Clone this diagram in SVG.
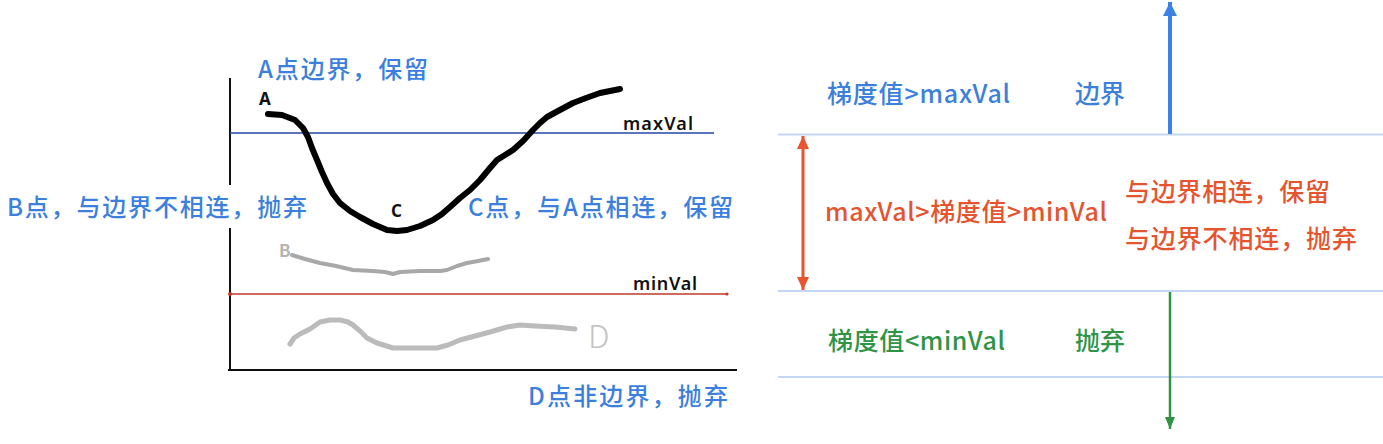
<svg xmlns="http://www.w3.org/2000/svg" width="1383" height="444" viewBox="0 0 1383 444">
<style>
text{font-family:"Noto Sans CJK SC","Noto Sans",sans-serif;}
.ann{font-size:24px;font-weight:500;fill:#3c7fdc;}
.rt{font-size:25px;font-weight:500;}
.blue{fill:#3c7fdc;}
.red{fill:#e4552f;}
.green{fill:#2f9446;}
.lbl{font-family:"Noto Sans",sans-serif;font-size:18px;font-weight:600;fill:#111;}
.pt{font-family:"Noto Sans",sans-serif;font-size:17px;font-weight:bold;}
.sep{stroke:#c3d7f0;stroke-width:2;fill:none;}
.curve{fill:none;stroke-linecap:round;stroke-linejoin:round;}
</style>
<defs>
<marker id="ah-blue" viewBox="0 0 14 14" refX="14" refY="7" markerWidth="14" markerHeight="14" markerUnits="userSpaceOnUse" orient="auto-start-reverse"><path d="M0,0 L14,7 L0,14 z" fill="#3b82e6"/></marker>
<marker id="ah-red" viewBox="0 0 13 12" refX="13" refY="6" markerWidth="13" markerHeight="12" markerUnits="userSpaceOnUse" orient="auto-start-reverse"><path d="M0,0 L13,6 L0,12 z" fill="#e9532e"/></marker>
<marker id="ah-green" viewBox="0 0 12 10" refX="12" refY="5" markerWidth="12" markerHeight="10" markerUnits="userSpaceOnUse" orient="auto-start-reverse"><path d="M0,0 L12,5 L0,10 z" fill="#2e9444"/></marker>
</defs>
<rect width="1383" height="444" fill="#ffffff"/>

<!-- Left chart -->
<g id="axes" stroke="#111" stroke-width="2" fill="none">
<path d="M230,78 V185"/>
<path d="M230,228 V370"/>
<path d="M228,370 H737"/>
</g>
<g id="maxVal-line">
<path d="M230,133 H714" stroke="#2346a8" stroke-width="1.6" fill="none"/>
<text class="lbl" x="623" y="130" textLength="70">maxVal</text>
</g>
<g id="minVal-line">
<path d="M230,294 H727" stroke="#c0392b" stroke-width="1.6" fill="none"/>
<circle cx="230" cy="294" r="2" fill="#c0392b"/>
<circle cx="727" cy="294" r="1.6" fill="#c0392b"/>
<text class="lbl" x="633" y="290" textLength="64">minVal</text>
</g>
<g id="curve-AC">
<path class="curve" stroke="#000" stroke-width="6" d="M268,114 L282,115 L295,120 L303,128 L308,137 L312,148 L317,160 L322,172 L327,183 L333,194 L340,203 L350,211 L360,217 L373,224 L387,230 L397,231 L407,230 L420,226 L433,220 L442,214 L450,207 L460,198 L470,190 L480,180 L490,168 L497,160 L505,155 L513,150 L523,141 L533,130 L540,123 L547,117 L558,111 L573,103 L586,98 L600,93 L610,91 L620,89"/>
<text class="pt" x="259" y="105" fill="#111">A</text>
<text class="pt" x="391" y="217" fill="#111">C</text>
</g>
<g id="curve-B">
<path class="curve" stroke="#a8a8a8" stroke-width="4" d="M292,255 L305,259 L320,263 L336,266 L353,270 L373,271 L385,272 L393,274 L400,272 L420,271 L440,271 L447,270 L457,266 L467,263 L478,261 L488,259"/>
<text x="279" y="257" font-family="Noto Sans,sans-serif" font-size="17" font-weight="600" fill="#b4b4b4">B</text>
</g>
<g id="curve-D">
<path class="curve" stroke="#bbbbbb" stroke-width="5" d="M290,344 L294,338 L300,334 L310,329 L320,322 L330,320 L340,320 L348,322 L353,325 L360,331 L367,338 L377,343 L393,348 L415,348 L437,348 L448,345 L460,340 L475,336 L490,332 L507,327 L520,325 L535,326 L555,327 L575,329"/>
<text x="588" y="348" font-family="Lato,Noto Sans,sans-serif" font-size="32" font-weight="300" fill="#c4c4c4">D</text>
</g>
<g id="annotations">
<text class="ann" x="258" y="78" textLength="170">A点边界，保留</text>
<text class="ann" x="7" y="216" textLength="300">B点，与边界不相连，抛弃</text>
<text class="ann" x="468" y="216" textLength="265">C点，与A点相连，保留</text>
<text class="ann" x="528" y="405" textLength="200">D点非边界，抛弃</text>
</g>

<!-- Right legend -->
<g id="separators">
<path class="sep" d="M778,134.5 H1383"/>
<path class="sep" d="M778,291 H1383"/>
<path class="sep" d="M778,377 H1383"/>
</g>
<g id="connectors">
<line x1="1170" y1="134" x2="1170" y2="2" stroke="#3b82e6" stroke-width="4" marker-end="url(#ah-blue)"/>
<line x1="803" y1="136" x2="803" y2="290" stroke="#e9532e" stroke-width="3" marker-start="url(#ah-red)" marker-end="url(#ah-red)"/>
<line x1="1170" y1="292" x2="1170" y2="429" stroke="#2e9444" stroke-width="2.5" marker-end="url(#ah-green)"/>
</g>
<g id="zone-above">
<text class="rt blue" x="827" y="103" textLength="183">梯度值&gt;maxVal</text>
<text class="rt blue" x="1075" y="103" textLength="50">边界</text>
</g>
<g id="zone-between">
<text class="rt red" x="825" y="221" textLength="282">maxVal&gt;梯度值&gt;minVal</text>
<text class="rt red" x="1125" y="201" textLength="205">与边界相连，保留</text>
<text class="rt red" x="1125" y="248" textLength="232">与边界不相连，抛弃</text>
</g>
<g id="zone-below">
<text class="rt green" x="828" y="350" textLength="177">梯度值&lt;minVal</text>
<text class="rt green" x="1075" y="350" textLength="50">抛弃</text>
</g>
</svg>
